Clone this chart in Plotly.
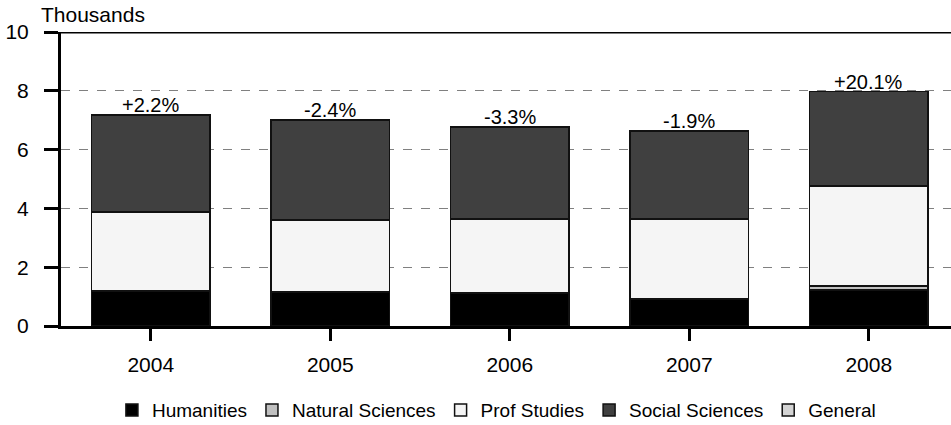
import plotly.graph_objects as go

years = ["2004", "2005", "2006", "2007", "2008"]
humanities = [1.19, 1.16, 1.12, 0.92, 1.22]
natural_sciences = [0, 0, 0, 0, 0.14]
prof_studies = [2.69, 2.45, 2.52, 2.72, 3.40]
social_sciences = [3.30, 3.40, 3.13, 3.00, 3.21]
general = [0, 0, 0, 0, 0]
change_labels = ["+2.2%", "-2.4%", "-3.3%", "-1.9%", "+20.1%"]

series = [
    ("Humanities", humanities, "#000000"),
    ("Natural Sciences", natural_sciences, "#c0c0c0"),
    ("Prof Studies", prof_studies, "#f5f5f5"),
    ("Social Sciences", social_sciences, "#404040"),
    ("General", general, "#d4d4d4"),
]

fig = go.Figure()
for name, vals, color in series:
    fig.add_trace(go.Bar(
        name=name, x=years, y=vals,
        marker=dict(color=color, line=dict(color="#111111", width=1.5)),
        width=0.66,
    ))

totals = [sum(v) for v in zip(humanities, natural_sciences, prof_studies, social_sciences, general)]
for i, (tot, lab) in enumerate(zip(totals, change_labels)):
    fig.add_annotation(x=i, xref="x", y=tot, yref="y", text=lab, showarrow=False,
                       yanchor="bottom", font=dict(size=20, color="#000"), yshift=-3)

fig.add_annotation(x=0, xref="paper", xanchor="left", xshift=-22, y=10, yref="y",
                   yanchor="middle", yshift=18, text="Thousands", showarrow=False,
                   font=dict(size=21, color="#000"))

fig.add_shape(type="line", xref="paper", x0=0, x1=1, yref="y", y0=10, y1=10,
              line=dict(color="#000", width=3))

fig.update_layout(
    barmode="stack",
    width=951, height=425,
    margin=dict(l=61, r=0, t=32, b=99, autoexpand=False),
    plot_bgcolor="white", paper_bgcolor="white",
    font=dict(family="Liberation Sans, Arial, sans-serif", color="#000"),
    showlegend=True,
    legend=dict(orientation="h", x=0.522, xref="container", xanchor="center",
                y=0.035, yref="container", yanchor="middle",
                font=dict(size=19), itemwidth=30, traceorder="normal"),
)
fig.update_xaxes(type="category", range=[-0.5, 4.458], showline=True, linecolor="#000",
                 linewidth=3, ticks="outside", ticklen=12, tickwidth=3, tickcolor="#000",
                 tickfont=dict(size=21), showgrid=False, ticklabelstandoff=6)
fig.update_yaxes(range=[0, 10], dtick=2, showline=True, linecolor="#000", linewidth=3,
                 ticks="outside", ticklen=14, tickwidth=3, tickcolor="#000",
                 tickfont=dict(size=21), showgrid=True, gridcolor="#808080",
                 griddash="dash", gridwidth=1, zeroline=False, ticklabelstandoff=11)

fig.write_html("out.html", config={"displayModeBar": False},
               post_script="document.body.style.margin='0';")
